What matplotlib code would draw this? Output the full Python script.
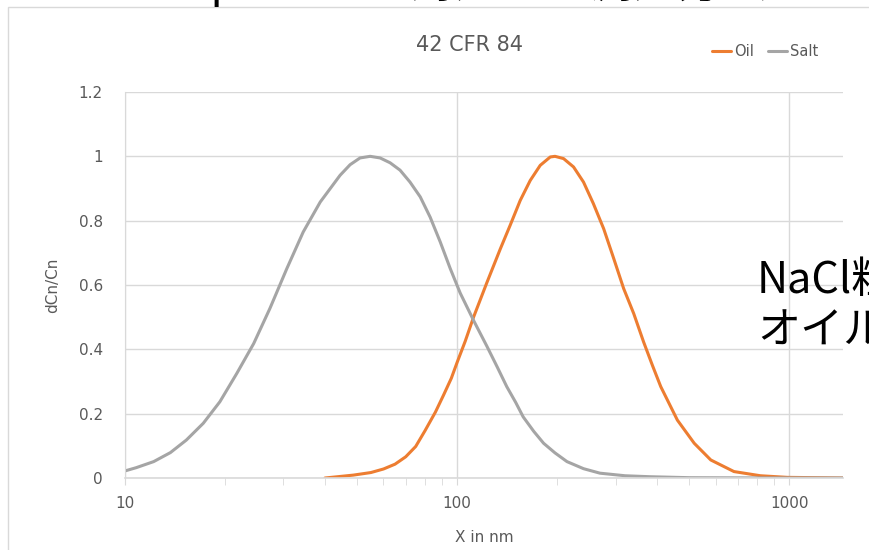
import matplotlib
matplotlib.use('Agg')
from matplotlib import pyplot as plt
from matplotlib.patches import Rectangle
from matplotlib.ticker import FixedLocator, NullFormatter

plt.rcParams['font.family'] = ['Liberation Sans Narrow', 'DejaVu Sans']

# values (particle size in nm, dCn/Cn)
SALT_X = [10, 10.8, 12.2, 13.7, 15.3, 17.2, 19.3, 21.7, 24.4, 27.3, 30.7, 34.4,
          38.7, 44.4, 47.6, 51.0, 54.7, 58.6, 62.8, 67.3, 72.1, 77.4, 82.9,
          88.9, 95.3, 102.1, 112.0, 122.8, 132, 141, 150, 158, 170, 182, 197,
          214, 240, 269, 320, 380, 500, 1000, 1450]
SALT_Y = [0.022, 0.032, 0.051, 0.079, 0.118, 0.170, 0.237, 0.325, 0.418, 0.527,
          0.651, 0.765, 0.858, 0.941, 0.974, 0.995, 1.0, 0.995, 0.980, 0.957,
          0.920, 0.874, 0.811, 0.734, 0.651, 0.575, 0.490, 0.410, 0.345, 0.284,
          0.235, 0.190, 0.145, 0.108, 0.078, 0.051, 0.029, 0.015, 0.007, 0.004,
          0.001, 0.0, 0.0]

OIL_X = [40, 48.7, 55, 60, 65, 70, 75, 80, 86, 91, 96, 100, 105.7, 112, 122.8,
         134.8, 144.4, 154.8, 165.9, 177.8, 190.6, 197, 209, 224, 240, 257,
         276, 296, 317, 340, 364, 387, 410, 460, 517, 580, 681, 818, 985, 1450]
OIL_Y = [0.0, 0.009, 0.017, 0.028, 0.043, 0.066, 0.098, 0.147, 0.205, 0.258,
         0.310, 0.360, 0.425, 0.500, 0.607, 0.712, 0.786, 0.863, 0.925, 0.972,
         0.998, 1.0, 0.993, 0.967, 0.920, 0.853, 0.775, 0.682, 0.589, 0.511,
         0.423, 0.35, 0.284, 0.180, 0.108, 0.056, 0.020, 0.007, 0.002, 0.0]

Y_TICKS = [0, 0.2, 0.4, 0.6, 0.8, 1.0, 1.2]
Y_LABELS = ['0', '0.2', '0.4', '0.6', '0.8', '1', '1.2']
X_TICKS = [10, 100, 1000]
X_LABELS = ['10', '100', '1000']

GRAY_TXT = '#595959'
GRID = '#d9d9d9'
OIL_COLOR = '#ed7d31'
SALT_COLOR = '#a5a5a5'

fig = plt.figure(figsize=(8.69, 5.5), dpi=100)
fig.patch.set_facecolor('white')

# chart frame (only the left and top edge are inside the picture)
fig.patches.append(Rectangle((8 / 869, -0.1), 1.2, 1 - 7 / 550 + 0.1,
                             transform=fig.transFigure, fill=False,
                             edgecolor='#d9d9d9', lw=1.0))

ax = fig.add_axes([125 / 869, 1 - 478 / 550, (843 - 125) / 869, (478 - 92) / 550])

ax.plot(OIL_X, OIL_Y, color=OIL_COLOR, lw=2.2, label='Oil',
        solid_capstyle='round', solid_joinstyle='round')
ax.plot(SALT_X, SALT_Y, color=SALT_COLOR, lw=2.2, label='Salt',
        solid_capstyle='round', solid_joinstyle='round')

ax.set_xscale('log')
ax.set_xlim(10, 1450)
ax.set_ylim(0, 1.2)

ax.set_yticks(Y_TICKS)
ax.set_yticklabels(Y_LABELS)
ax.set_xticks(X_TICKS)
ax.set_xticklabels(X_LABELS)
minor = [m * d for d in (10, 100, 1000) for m in range(2, 10) if m * d < 1450]
ax.xaxis.set_minor_locator(FixedLocator(minor))
ax.xaxis.set_minor_formatter(NullFormatter())

ax.grid(True, which='major', color=GRID, lw=1.0)
ax.set_axisbelow(True)
for side in ('top', 'right'):
    ax.spines[side].set_visible(False)
ax.spines['left'].set_color(GRID)
ax.spines['bottom'].set_color(GRID)
ax.spines['bottom'].set_linewidth(1.2)

ax.tick_params(axis='y', length=0, pad=16, labelsize=11, labelcolor=GRAY_TXT)
ax.tick_params(axis='x', which='both', direction='out', length=5, color=GRID,
               labelsize=11, labelcolor=GRAY_TXT, pad=8)

ax.set_xlabel('X in nm', fontsize=11, color=GRAY_TXT, labelpad=14)
ax.set_ylabel('dCn/Cn', fontsize=11, color=GRAY_TXT, labelpad=13)

fig.text(470 / 869, 1 - 45 / 550, '42 CFR 84', fontsize=15, color=GRAY_TXT,
         ha='center', va='center')

fig.legend(loc='center', bbox_to_anchor=(765 / 869, 1 - 52 / 550), ncol=2,
           frameon=False, fontsize=10.5, handlelength=1.3, handletextpad=0.2,
           columnspacing=1.0, labelcolor=GRAY_TXT)

# big black captions, cut off by the picture edge as in the reference
jp = ['Noto Sans CJK JP', 'DejaVu Sans']
fig.text(70 / 869, 1 + 3 / 550, '42CFR part 84 に対応する測定方法',
         fontsize=32, family=jp, color='black', ha='left', va='baseline')
fig.text(757 / 869, 1 - 293 / 550, 'NaCl粒子', fontsize=31, family=jp,
         color='black', ha='left', va='baseline')
fig.text(757 / 869, 1 - 343 / 550, 'オイル粒子', fontsize=31, family=jp,
         color='black', ha='left', va='baseline')

fig.savefig('out.png', dpi=100)
